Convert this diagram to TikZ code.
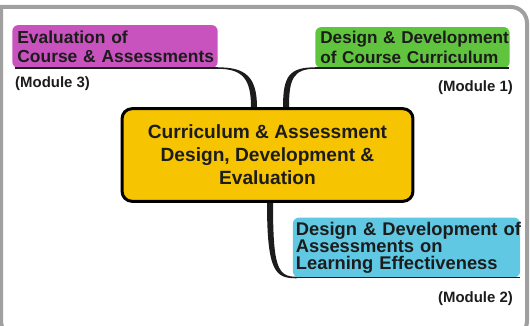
\documentclass[tikz,border=0pt]{standalone}
\usepackage{fontspec}
\setmainfont{Liberation Sans}
\usepackage{xcolor}
\usepackage{tikz}
\usetikzlibrary{calc}

\definecolor{evalpink}{RGB}{200,82,190}
\definecolor{currgreen}{RGB}{96,196,62}
\definecolor{coreyellow}{RGB}{246,196,0}
\definecolor{assessblue}{RGB}{96,200,226}
\definecolor{framegray}{RGB}{160,160,160}
\definecolor{inkdark}{RGB}{28,28,28}

\tikzset{
  topic/.style={rounded corners=6bp, inner ysep=0pt, align=left, text=inkdark},
  modlabel/.style={inner sep=0pt, text=inkdark, font=\bfseries\fontsize{15}{16}\selectfont},
  branch/.style={fill=inkdark},
  underline/.style={draw=inkdark, line width=1.4bp}
}

\begin{document}
\begin{tikzpicture}[x=1bp,y=1bp]
\useasboundingbox (0,0) rectangle (530,325);
\fill[white] (0,0) rectangle (530,325);
% outer frame
\draw[framegray, line width=4bp] (1,-12) -- (1,318) [rounded corners=16bp] -- (527,318) -- (527,-12) -- cycle;

% central topic
\node[draw=black, line width=3bp, fill=coreyellow, rounded corners=10bp,
  minimum width=292, minimum height=93, align=center, text=inkdark,
  font=\bfseries\fontsize{19.2}{23}\selectfont] (core) at (267.5,170)
  {Curriculum \& Assessment\\Design, Development \&\\Evaluation};

% the three modules
\node[topic, fill=evalpink, inner xsep=5bp, text width=196, minimum height=43,
  font=\bfseries\fontsize{17.5}{19.5}\selectfont] (eval) at (115,278.5)
  {\mbox{Evaluation of}\\\mbox{Course \& Assessments}};
\node[topic, fill=currgreen, inner xsep=5bp, text width=185, minimum height=41,
  font=\bfseries\fontsize{17.2}{19.5}\selectfont] (curr) at (412.5,277.5)
  {\mbox{Design \& Development}\\\mbox{of Course Curriculum}};
\node[topic, fill=assessblue, inner xsep=3bp, text width=222, minimum height=60,
  font=\bfseries\fontsize{18.4}{17}\selectfont] (assess) at (406.5,77.5)
  {\mbox{Design \& Development of}\\\mbox{Assessments on}\\\mbox{Learning Effectiveness}};

\node[modlabel, anchor=west] (mod3) at (15,241.5) {(Module 3)};
\node[modlabel, anchor=east] (mod1) at (513,237.5) {(Module 1)};
\node[modlabel, anchor=east] (mod2) at (513,26) {(Module 2)};

% branches
\draw[underline] ($(eval.south west)+(3,0)$) -- (eval.south east);
\fill[branch] ($(eval.south east)+(0,-0.7)$) .. controls +(25,0) and +(0,28) .. ($(core.north)+(-16.5,0)$)
  -- ++(6,0) .. controls +(0,31) and +(27,0) .. ($(eval.south east)+(0,0.8)$) -- cycle;

\draw[underline] (curr.south west) -- ($(curr.south east)+(-1,0)$);
\fill[branch] ($(curr.south west)+(0,-0.7)$) .. controls +(-22,0) and +(0,28) .. ($(core.north)+(21.5,0)$)
  -- ++(-6,0) .. controls +(0,31) and +(-26,0) .. ($(curr.south west)+(0,0.8)$) -- cycle;

\draw[underline] ($(assess.south west)+(3,0)$) -- (assess.south east);
\fill[branch] ($(core.south)+(-0.5,0)$) .. controls +(0,-70) and +(-21,0) .. ($(assess.south west)+(4,-0.7)$)
  -- ++(0,1.5) .. controls +(-19,0) and +(0,-65) .. ($(core.south)+(5.5,0)$) -- cycle;
\end{tikzpicture}
\end{document}
